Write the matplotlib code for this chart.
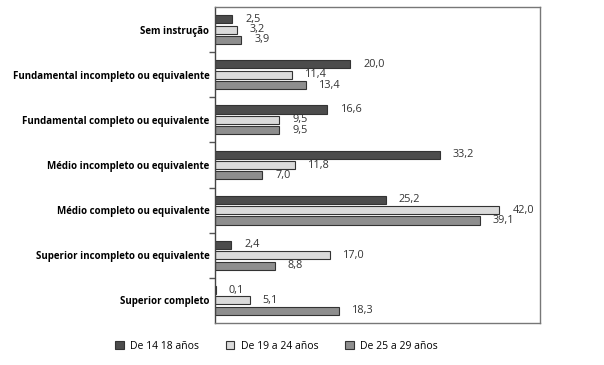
import numpy as np
import matplotlib
matplotlib.use("Agg")
from matplotlib import pyplot as plt

categories = ['Sem instrução', 'Fundamental incompleto ou equivalente',
              'Fundamental completo ou equivalente', 'Médio incompleto ou equivalente',
              'Médio completo ou equivalente', 'Superior incompleto ou equivalente',
              'Superior completo']
series_names = ['De 14 18 años', 'De 19 a 24 años', 'De 25 a 29 años']
v_14_18 = [2.5, 20.0, 16.6, 33.2, 25.2, 2.4, 0.1]
v_19_24 = [3.2, 11.4, 9.5, 11.8, 42.0, 17.0, 5.1]
v_25_29 = [3.9, 13.4, 9.5, 7.0, 39.1, 8.8, 18.3]

colors = ['#4c4c4c', '#dadada', '#8e8e8e']
plt.rcParams['font.family'] = ['Open Sans', 'DejaVu Sans']

fig = plt.figure(figsize=(6.04, 3.65), dpi=100)
ax = fig.add_axes([215 / 604, 1 - 323 / 365, 325 / 604, 316 / 365])

y = np.arange(len(categories))
pitch = 0.23
height = 0.18
for i, (vals, col, name) in enumerate(zip([v_14_18, v_19_24, v_25_29], colors, series_names)):
    pos = y + (i - 1) * pitch
    ax.barh(pos, vals, height=height, color=col, edgecolor='#333333', linewidth=0.8, label=name)
    for p, v in zip(pos, vals):
        ax.annotate(f'{v:.1f}'.replace('.', ','), (v, p), xytext=(9.5, 0), textcoords='offset points',
                    va='center', ha='left', fontsize=7.8, color='#333333')

ax.set_xlim(0, 48)
ax.set_ylim(len(categories) - 0.5, -0.5)
ax.set_xticks([])
ax.set_yticks(y)
ax.set_yticklabels(categories, fontsize=7, fontweight='bold')
ax.tick_params(axis='y', which='major', length=0, pad=4)
ax.set_yticks(np.arange(0.5, len(categories) - 1, 1), minor=True)
ax.tick_params(axis='y', which='minor', length=4, color='#555555', width=1)
for s in ax.spines.values():
    s.set_color('#777777')
    s.set_linewidth(1)
ax.spines['left'].set_color('#444444')

fig.legend(loc='lower center', bbox_to_anchor=(0.458, 0.01), ncol=3, frameon=False,
           fontsize=7.5, handlelength=0.8, handleheight=0.8, columnspacing=2.6, handletextpad=0.6)

fig.savefig('out.png', dpi=100)
